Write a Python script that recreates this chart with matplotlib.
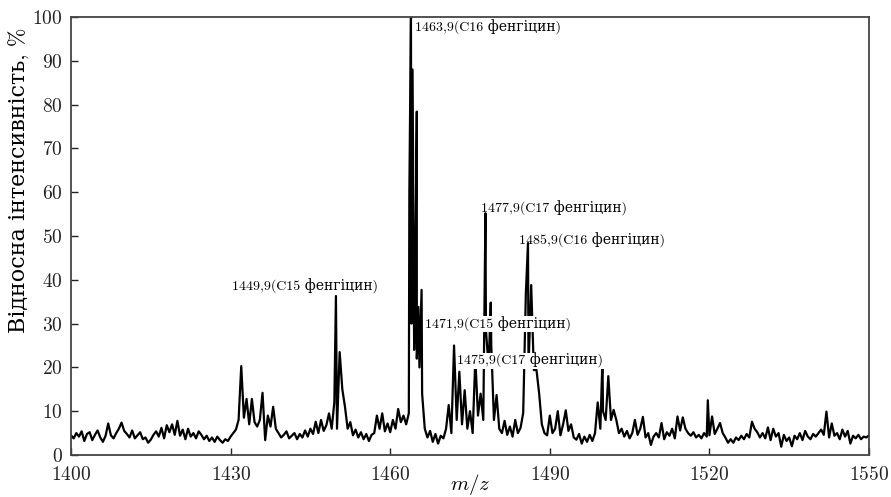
import numpy as np
import matplotlib
matplotlib.use("Agg")
import matplotlib.pyplot as plt

plt.rcParams['font.family'] = ['cmr10', 'DejaVu Serif']
plt.rcParams['mathtext.fontset'] = 'cm'
plt.rcParams['axes.formatter.use_mathtext'] = True

# baseline trace, m/z 1400..1550 every 0.5
mz_start = 1400.0
mz_step = 0.5
base = [
    4.5, 3.8, 5.0, 4.2, 5.4, 3.2, 4.8, 5.2, 3.4, 4.6, 5.6, 4.0, 3.0, 4.4, 7.2, 4.5, 3.8, 5.0, 6.0, 7.4,
    5.5, 4.8, 4.0, 5.6, 3.8, 4.5, 5.2, 3.6, 4.0, 2.8, 3.5, 4.6, 5.4, 4.2, 6.2, 3.8, 6.8, 5.2, 7.0, 4.6,
    7.8, 4.4, 5.8, 3.6, 6.0, 4.2, 5.0, 3.8, 5.4, 4.6, 3.6, 4.4, 3.2, 4.0, 3.0, 4.2, 3.4, 2.8, 3.6, 3.2,
    4.2, 5.0, 5.8, 8.0, 20.3, 8.5, 12.8, 7.0, 12.8, 7.5, 6.5, 8.0, 14.2, 3.4, 9.0, 6.5, 11.0, 6.0, 5.0, 4.0,
    4.6, 5.4, 3.8, 4.4, 5.0, 3.6, 4.8, 4.0, 5.6, 4.2, 6.0, 4.8, 7.6, 5.0, 8.0, 5.5, 6.8, 9.5, 6.0, 12.0,
    6.0, 23.5, 15.0, 11.0, 6.0, 7.5, 4.5, 5.8, 4.0, 5.2, 3.6, 4.8, 3.2, 4.6, 5.0, 9.0, 6.0, 9.5, 5.4, 7.2,
    5.2, 8.0, 6.0, 10.5, 7.5, 9.0, 7.0, 9.5, 30.0, 24.0, 22.0, 20.0, 14.0, 6.0, 4.0, 5.5, 3.0, 4.8, 2.6, 4.4,
    3.8, 6.0, 11.4, 5.0, 25.0, 8.0, 19.0, 7.0, 14.8, 6.0, 10.0, 5.0, 21.9, 9.0, 14.0, 8.0, 28.5, 20.0, 25.0, 8.0,
    13.7, 6.0, 5.0, 7.8, 4.6, 6.5, 4.2, 8.0, 5.0, 6.2, 9.6, 37.0, 20.0, 38.8, 19.4, 19.4, 14.0, 7.0, 5.0, 4.5,
    9.0, 5.0, 6.0, 10.0, 4.5, 7.0, 10.2, 5.5, 7.0, 4.0, 3.5, 4.8, 2.6, 4.2, 3.0, 4.6, 3.2, 5.0, 12.0, 6.0,
    10.0, 8.0, 18.0, 8.0, 10.3, 8.0, 5.0, 6.0, 4.2, 5.5, 3.8, 5.0, 8.0, 4.6, 6.0, 8.7, 4.0, 5.0, 2.3, 4.2,
    5.0, 4.0, 7.3, 3.6, 5.2, 4.4, 6.0, 3.8, 8.8, 5.6, 8.6, 6.0, 5.0, 4.4, 5.2, 4.0, 4.6, 3.8, 5.0, 4.2,
    4.5, 8.8, 4.8, 6.0, 7.3, 5.0, 4.0, 2.8, 3.6, 2.8, 4.0, 3.4, 4.4, 3.6, 4.8, 4.0, 7.6, 6.0, 5.2, 4.0,
    5.0, 3.8, 6.3, 3.4, 6.0, 4.2, 5.0, 1.9, 4.6, 3.2, 4.0, 2.0, 4.4, 3.6, 5.0, 3.4, 5.5, 4.2, 3.6, 4.8,
    4.2, 5.0, 5.8, 4.6, 9.9, 4.0, 7.2, 4.4, 5.0, 3.6, 5.8, 4.2, 5.5, 2.6, 4.4, 3.8, 4.6, 3.6, 4.2, 4.0,
    4.5,
]

# sharp peaks between grid points
peak_mz = [1449.8, 1463.6, 1463.9, 1464.2, 1464.6, 1465.0, 1465.3, 1465.9, 1477.9, 1478.9, 1485.9, 1499.9, 1519.7]
peak_int = [36.3, 60.0, 100.0, 88.0, 28.0, 78.4, 33.8, 37.7, 55.2, 34.8, 48.4, 22.0, 12.5]

labels = ['1449,9(C15 фенгіцин)', '1463,9(C16 фенгіцин)', '1471,9(C15 фенгіцин)',
          '1475,9(C17 фенгіцин)', '1477,9(C17 фенгіцин)', '1485,9(C16 фенгіцин)']
label_x = [1430.3, 1464.7, 1466.5, 1472.6, 1477.1, 1484.2]
label_y = [38.6, 97.7, 29.9, 21.5, 56.4, 48.9]
label_boxed = [False, False, True, True, False, False]

base_mz = mz_start + mz_step * np.arange(len(base))
mz = np.concatenate([base_mz, peak_mz])
inten = np.concatenate([base, peak_int])
order = np.argsort(mz)
mz, inten = mz[order], inten[order]

fig = plt.figure(figsize=(8.91, 4.97), dpi=100)
ax = fig.add_axes([71/891, 1-455/497, 798/891, 438/497])
ax.plot(mz, inten, color='black', lw=1.6, zorder=2)

for t, x, y, b in zip(labels, label_x, label_y, label_boxed):
    kw = {}
    if b:
        kw['bbox'] = dict(facecolor='white', edgecolor='none', pad=0.5)
    ax.text(x, y, t, fontsize=10, va='center', ha='left', zorder=3,
            family=['cmr10', 'DejaVu Serif'], **kw)

ax.set_xlim(1400, 1550)
ax.set_ylim(0, 100)
ax.set_xticks([1400, 1430, 1460, 1490, 1520, 1550])
ax.set_yticks(range(0, 101, 10))
ax.tick_params(direction='in', length=5, width=1, labelsize=14, colors='#222222', pad=6)
ax.tick_params(axis='x', pad=8)
for s in ax.spines.values():
    s.set_color('#444444')
    s.set_linewidth(1.3)

ax.set_xlabel('$m/z$', fontsize=15, va='center')
ax.xaxis.set_label_coords(0.5, -0.068)
ax.set_ylabel('Відносна інтенсивність, %', fontsize=16)
ax.yaxis.set_label_coords(-0.051, 0.628)

fig.savefig('out.png', dpi=100)
